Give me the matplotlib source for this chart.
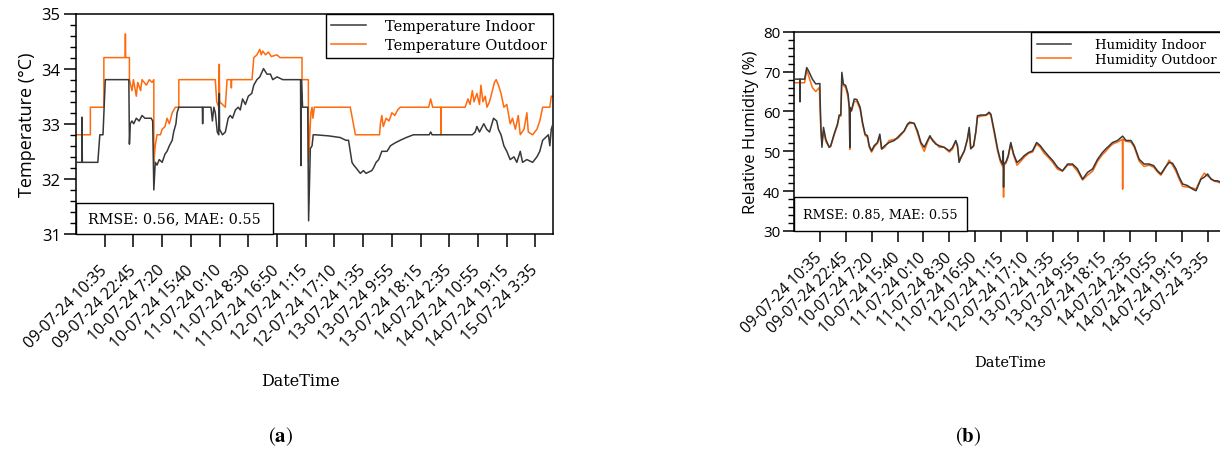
import matplotlib
matplotlib.use("Agg")
import matplotlib.pyplot as plt
from matplotlib.ticker import MultipleLocator
from matplotlib.patches import Rectangle

plt.rcParams['mathtext.fontset'] = 'stix'

# ---------------- data ----------------
tick_labels = ["09-07-24 10:35", "09-07-24 22:45", "10-07-24 7:20", "10-07-24 15:40",
               "11-07-24 0:10", "11-07-24 8:30", "11-07-24 16:50", "12-07-24 1:15",
               "12-07-24 17:10", "13-07-24 1:35", "13-07-24 9:55", "13-07-24 18:15",
               "14-07-24 2:35", "14-07-24 10:55", "14-07-24 19:15", "15-07-24 3:35"]
tick_index = [100, 200, 300, 400, 500, 600, 700, 800, 900, 1000, 1100, 1200, 1300, 1400, 1500, 1600]
n_samples = 1661

temp_out_idx = [0, 50, 50, 97, 97, 171, 172, 173, 186, 186, 195, 200, 210, 215, 225, 230, 245, 255, 265,
                271, 271, 276, 282, 294, 300, 310, 317, 325, 335, 346, 358, 358, 480, 485, 490, 497, 499,
                500, 510, 520, 526, 540, 541, 542, 613, 619, 630, 640, 645, 650, 660, 670, 680, 700, 710,
                787, 787, 809, 810, 815, 818, 822, 825, 830, 955, 973, 1057, 1060, 1065, 1070, 1080, 1090,
                1100, 1110, 1120, 1129, 1228, 1235, 1242, 1270, 1271, 1272, 1355, 1365, 1372, 1380, 1386,
                1396, 1405, 1410, 1417, 1425, 1431, 1440, 1450, 1457, 1463, 1471, 1480, 1490, 1500, 1512,
                1520, 1530, 1540, 1547, 1560, 1570, 1575, 1590, 1605, 1615, 1625, 1650, 1655, 1661]
temp_out = [32.8, 32.8, 33.3, 33.3, 34.2, 34.2, 34.63, 34.2, 34.2, 33.8, 33.6, 33.8, 33.5, 33.75, 33.6, 33.8,
            33.7, 33.8, 33.75, 33.8, 32.3, 32.6, 32.8, 32.8, 32.9, 32.95, 33.1, 33.0, 33.2, 33.3, 33.3, 33.8,
            33.8, 33.8, 33.4, 33.3, 34.08, 33.4, 33.35, 33.3, 33.8, 33.8, 33.65, 33.8, 33.8, 34.2, 34.25,
            34.35, 34.25, 34.32, 34.25, 34.3, 34.22, 34.25, 34.2, 34.2, 33.8, 33.8, 32.3, 32.9, 33.2, 33.3,
            33.1, 33.3, 33.3, 32.8, 32.8, 33.0, 33.15, 32.95, 33.1, 33.05, 33.2, 33.15, 33.25, 33.3, 33.3,
            33.45, 33.3, 33.3, 32.8, 33.3, 33.3, 33.45, 33.35, 33.6, 33.4, 33.55, 33.35, 33.7, 33.4, 33.5,
            33.3, 33.4, 33.6, 33.75, 33.8, 33.7, 33.55, 33.3, 33.35, 33.0, 33.1, 32.9, 33.15, 32.8, 32.9,
            33.2, 32.85, 32.8, 32.9, 33.05, 33.3, 33.3, 33.5, 33.5]

temp_in_idx = [0, 21, 21, 22, 76, 83, 94, 102, 184, 186, 189, 195, 201, 210, 220, 230, 240, 262, 267, 271,
               276, 282, 290, 300, 310, 317, 325, 335, 340, 348, 352, 358, 440, 441, 442, 470, 475, 480, 485,
               492, 497, 499, 500, 510, 520, 530, 537, 545, 555, 565, 572, 580, 590, 600, 612, 619, 630, 640,
               653, 665, 677, 685, 700, 720, 760, 782, 783, 785, 789, 807, 810, 816, 822, 826, 833, 880, 920,
               940, 949, 961, 967, 975, 990, 1001, 1010, 1030, 1036, 1045, 1054, 1065, 1083, 1095, 1110,
               1129, 1150, 1175, 1230, 1235, 1240, 1380, 1390, 1396, 1405, 1420, 1430, 1440, 1454, 1465,
               1471, 1480, 1490, 1500, 1512, 1525, 1535, 1547, 1555, 1570, 1590, 1605, 1615, 1625, 1635,
               1645, 1650, 1655, 1661]
temp_in = [32.3, 32.3, 33.12, 32.3, 32.3, 32.8, 32.8, 33.8, 33.8, 32.63, 33.0, 33.05, 33.0, 33.1, 33.05,
           33.15, 33.1, 33.1, 33.05, 31.8, 32.3, 32.25, 32.35, 32.3, 32.45, 32.5, 32.6, 32.7, 32.85, 33.0,
           33.2, 33.3, 33.3, 33.0, 33.3, 33.3, 33.05, 33.3, 33.2, 32.85, 32.8, 33.55, 32.9, 32.8, 32.85,
           33.1, 33.15, 33.1, 33.25, 33.3, 33.25, 33.45, 33.35, 33.5, 33.55, 33.7, 33.8, 33.85, 34.0, 33.9,
           33.9, 33.8, 33.85, 33.8, 33.8, 33.8, 32.24, 33.8, 33.3, 33.3, 31.24, 32.55, 32.6, 32.8, 32.8,
           32.78, 32.75, 32.7, 32.7, 32.3, 32.25, 32.2, 32.1, 32.15, 32.1, 32.15, 32.2, 32.3, 32.35, 32.5,
           32.5, 32.6, 32.65, 32.7, 32.75, 32.8, 32.8, 32.85, 32.8, 32.8, 32.85, 32.95, 32.85, 33.0, 32.9,
           32.85, 33.1, 33.05, 32.9, 32.8, 32.6, 32.5, 32.35, 32.4, 32.3, 32.5, 32.3, 32.35, 32.3, 32.4,
           32.5, 32.7, 32.75, 32.8, 32.6, 32.9, 33.0]

hum_in_idx = [0, 21, 22, 23, 40, 48, 55, 70, 83, 97, 99, 100, 103, 107, 113, 122, 135, 141, 154, 167, 174,
              180, 184, 190, 199, 208, 213, 215, 216, 221, 232, 242, 255, 264, 274, 283, 290, 299, 309, 322,
              331, 338, 350, 367, 387, 400, 412, 425, 438, 447, 464, 477, 490, 503, 516, 525, 535, 548, 561,
              580, 600, 612, 625, 632, 638, 645, 658, 670, 677, 683, 694, 703, 709, 722, 742, 754, 761, 774,
              787, 797, 806, 809, 810, 811, 819, 828, 838, 849, 862, 877, 890, 907, 922, 938, 952, 967, 983,
              1000, 1019, 1038, 1058, 1077, 1096, 1116, 1135, 1155, 1174, 1193, 1206, 1219, 1232, 1251, 1271,
              1284, 1303, 1316, 1335, 1354, 1374, 1391, 1406, 1419, 1436, 1451, 1464, 1477, 1490, 1503, 1522,
              1542, 1555, 1574, 1587, 1600, 1613, 1626, 1638, 1651, 1661]
hum_in = [68.1, 68.1, 62.4, 68.1, 68.1, 71.0, 70.2, 68.1, 66.9, 67.0, 67.0, 63.0, 56.0, 51.0, 56.0, 53.0,
          51.0, 51.4, 54.3, 56.8, 59.1, 59.1, 69.8, 66.9, 66.5, 64.4, 61.0, 51.0, 61.0, 60.2, 63.1, 63.0,
          61.0, 57.3, 54.3, 53.9, 51.4, 50.1, 51.4, 52.2, 54.3, 50.6, 51.4, 52.2, 52.7, 53.5, 54.3, 55.1,
          56.8, 57.3, 57.0, 55.1, 52.2, 51.0, 52.7, 53.9, 52.7, 51.8, 51.4, 51.0, 50.1, 50.9, 52.7, 51.4,
          47.2, 48.5, 50.1, 53.1, 56.0, 50.6, 51.4, 55.1, 58.9, 59.1, 59.1, 59.8, 59.3, 55.1, 50.6, 48.0,
          46.8, 50.1, 41.0, 46.8, 47.3, 48.9, 52.2, 49.3, 47.2, 48.0, 48.9, 49.7, 50.1, 52.2, 51.4, 50.1,
          48.9, 47.7, 46.0, 45.1, 46.8, 46.8, 45.6, 43.0, 44.7, 45.6, 48.0, 49.7, 50.6, 51.4, 52.2, 52.7,
          53.8, 52.7, 52.7, 51.4, 48.0, 46.8, 46.8, 46.4, 45.1, 44.3, 46.0, 47.2, 47.0, 45.6, 43.5, 41.8,
          41.4, 40.5, 40.1, 43.0, 43.5, 44.3, 43.0, 42.6, 42.6, 42.2, 42.2]

hum_out_idx = [0, 40, 48, 55, 70, 83, 97, 100, 103, 107, 113, 122, 135, 141, 154, 167, 174, 180, 184, 190,
               199, 208, 213, 215, 216, 221, 232, 242, 255, 264, 274, 283, 290, 299, 309, 322, 331, 338, 350,
               367, 387, 400, 412, 425, 438, 447, 464, 477, 490, 503, 516, 525, 535, 548, 561, 580, 600, 612,
               625, 632, 638, 645, 658, 670, 677, 683, 694, 703, 709, 722, 742, 754, 761, 774, 787, 797, 806,
               809, 810, 811, 819, 828, 838, 849, 862, 877, 890, 907, 922, 938, 952, 967, 983, 1000, 1019,
               1038, 1058, 1077, 1096, 1116, 1135, 1155, 1174, 1193, 1206, 1219, 1232, 1251, 1270, 1271, 1272,
               1284, 1303, 1316, 1335, 1354, 1374, 1391, 1406, 1419, 1436, 1451, 1464, 1477, 1490, 1503, 1522,
               1542, 1555, 1574, 1587, 1600, 1613, 1626, 1638, 1651, 1661]
hum_out = [67.2, 67.2, 70.5, 69.0, 66.0, 65.0, 66.0, 60.0, 55.0, 52.0, 55.0, 52.5, 51.0, 51.2, 54.0, 56.5,
           58.8, 58.8, 67.0, 66.5, 66.0, 63.5, 60.5, 50.5, 60.5, 60.0, 62.5, 62.5, 60.5, 56.8, 54.0, 53.5,
           51.0, 49.8, 51.0, 52.0, 53.8, 50.5, 51.0, 52.7, 53.0, 53.2, 54.0, 55.0, 56.5, 57.0, 57.0, 54.5,
           51.8, 50.0, 52.3, 53.5, 53.0, 52.0, 51.0, 51.0, 49.8, 50.5, 52.5, 51.0, 47.5, 48.2, 50.0, 52.8,
           55.5, 50.8, 51.2, 54.8, 58.5, 58.8, 59.0, 59.5, 59.0, 54.5, 50.0, 47.5, 46.2, 46.0, 38.5, 46.5,
           47.0, 48.5, 51.8, 49.0, 46.5, 47.5, 48.5, 49.5, 49.8, 51.8, 51.0, 49.5, 48.5, 47.2, 45.5, 45.0,
           46.5, 46.5, 45.0, 42.8, 44.0, 45.0, 47.5, 49.2, 50.0, 51.0, 51.8, 52.3, 53.0, 40.5, 53.0, 52.5,
           52.3, 51.0, 47.5, 46.2, 46.5, 46.0, 44.8, 44.0, 45.8, 47.8, 46.5, 45.0, 43.0, 41.2, 41.0, 40.8,
           40.5, 43.2, 44.5, 43.8, 43.2, 42.5, 42.3, 42.0, 42.0]

# ---------------- styling ----------------
C_IN = '#383838'
C_OUT = '#ff6a0d'
SANS = 'Open Sans'
SERIF = 'DejaVu Serif'

fig = plt.figure(figsize=(12.2, 4.52), dpi=100)
W, H = 1220.0, 452.0


def axes_px(x0, x1, ytop, ybot):
    return fig.add_axes([x0 / W, 1 - ybot / H, (x1 - x0) / W, (ybot - ytop) / H])


def style_axes(ax, ylim, major, minor, tsize, xtsize, tl_major, tl_minor, xpad):
    ax.set_xlim(0, n_samples)
    ax.set_ylim(*ylim)
    ax.set_xticks(tick_index)
    ax.set_xticklabels(tick_labels, rotation=45, ha='right', va='center',
                       rotation_mode='anchor', fontsize=xtsize, family=SANS)
    ax.yaxis.set_major_locator(MultipleLocator(major))
    ax.yaxis.set_minor_locator(MultipleLocator(minor))
    for s in ax.spines.values():
        s.set_linewidth(1.1)
    ax.tick_params(axis='y', which='major', direction='out', length=tl_major, width=1.1,
                   labelsize=tsize, pad=2)
    ax.tick_params(axis='y', which='minor', direction='out', length=tl_minor, width=1.0)
    ax.tick_params(axis='x', which='major', direction='out', length=tl_major, width=1.1, pad=xpad)
    for lab in ax.get_yticklabels():
        lab.set_family(SANS)


def stat_box(x0, x1, ytop, ybot, text, size):
    fig.patches.append(Rectangle((x0 / W, 1 - ybot / H), (x1 - x0) / W, (ybot - ytop) / H,
                                 transform=fig.transFigure, facecolor='white', edgecolor='black',
                                 linewidth=1.0, zorder=5))
    fig.text((x0 + x1) / 2 / W, 1 - (ytop + ybot) / 2 / H, text, ha='center', va='center',
             family=SERIF, fontsize=size, zorder=6)


# ---------------- panel (a) ----------------
ax1 = axes_px(76, 553, 14.5, 235)
ax1.plot(temp_in_idx, temp_in, color=C_IN, lw=1.1, label='Temperature Indoor', zorder=3)
ax1.plot(temp_out_idx, temp_out, color=C_OUT, lw=1.1, label='Temperature Outdoor', zorder=2)
style_axes(ax1, (31, 35), 1, 0.2, 12, 11.5, 9, 4.5, 15)
ax1.set_ylabel('Temperature (°C)', fontsize=13, family=SANS, labelpad=4)
leg1 = ax1.legend(loc='upper right', borderaxespad=0, fancybox=False, framealpha=1,
                  edgecolor='black', prop={'family': SERIF, 'size': 10.5}, handlelength=2.4,
                  handletextpad=1.3, labelspacing=0.35, borderpad=0.4)
leg1.get_frame().set_linewidth(1.0)
stat_box(76, 273, 204, 235, 'RMSE: 0.56, MAE: 0.55', 10.3)

# ---------------- panel (b) ----------------
ax2 = axes_px(794.3, 1223.4, 32.7, 232)
ax2.plot(hum_in_idx, hum_in, color=C_IN, lw=1.1, label='Humidity Indoor', zorder=3)
ax2.plot(hum_out_idx, hum_out, color=C_OUT, lw=1.1, label='Humidity Outdoor', zorder=2)
style_axes(ax2, (30, 80), 10, 2, 11, 11.2, 8, 4, 9)
ax2.set_ylabel('Relative Humidity (%)', fontsize=12, family=SANS, labelpad=3)
leg2 = ax2.legend(loc='upper right', borderaxespad=0, fancybox=False, framealpha=1,
                  edgecolor='black', prop={'family': SERIF, 'size': 9.5}, handlelength=2.6,
                  handletextpad=1.8, labelspacing=0.1, borderpad=0.5)
leg2.get_frame().set_linewidth(1.0)
stat_box(794.3, 967, 198, 232, 'RMSE: 0.85, MAE: 0.55', 9.2)

# ---------------- axis titles & panel labels ----------------
fig.text(300 / W, 1 - 381 / H, 'DateTime', ha='center', va='center', family=SERIF, fontsize=11.5)
fig.text(1010 / W, 1 - 363 / H, 'DateTime', ha='center', va='center', family=SERIF, fontsize=10.5)
fig.text(281 / W, 1 - 437 / H, r'$(\mathbf{a})$', ha='center', va='center', fontsize=15)
fig.text(968 / W, 1 - 437 / H, r'$(\mathbf{b})$', ha='center', va='center', fontsize=15)

fig.savefig('out.png', dpi=100)
